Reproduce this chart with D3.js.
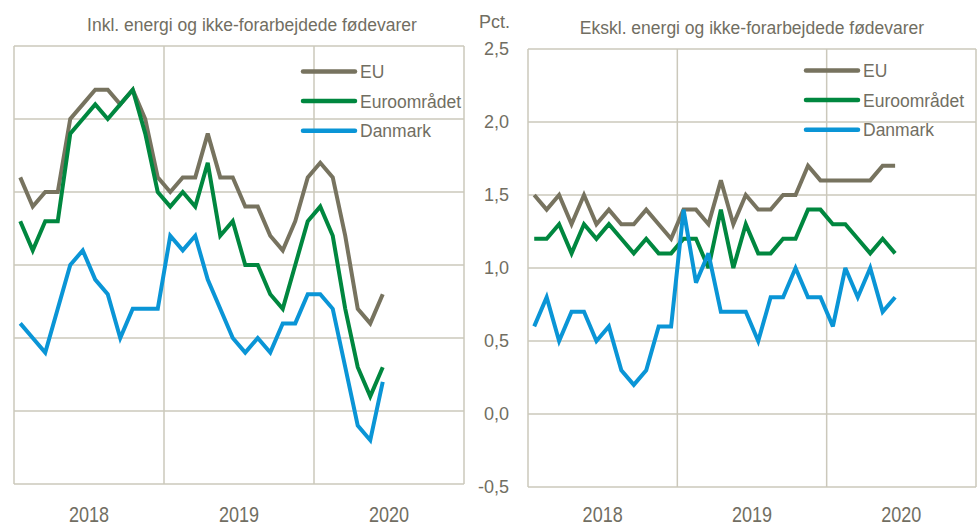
<!DOCTYPE html>
<html>
<head>
<meta charset="utf-8">
<script src="https://cdn.jsdelivr.net/npm/d3@7"></script>
<style>
  html, body { margin: 0; padding: 0; background: #ffffff; }
  svg { display: block; }
  text { font-family: "Liberation Sans", Arial, sans-serif; fill: #716e62; }
</style>
</head>
<body>
<svg id="chart" width="977" height="525"></svg>
<script>
// ---------- data ----------
const months = ["2018-01","2018-02","2018-03","2018-04","2018-05","2018-06","2018-07","2018-08","2018-09","2018-10","2018-11","2018-12",
                "2019-01","2019-02","2019-03","2019-04","2019-05","2019-06","2019-07","2019-08","2019-09","2019-10","2019-11","2019-12",
                "2020-01","2020-02","2020-03","2020-04","2020-05","2020-06"];
const years = ["2018", "2019", "2020"];
const yTicks = [2.5, 2.0, 1.5, 1.0, 0.5, 0.0, -0.5];
const seriesNames = ["EU", "Euroområdet", "Danmark"];

// Inkl. energi og ikke-forarbejdede fødevarer
const inklEU    = [1.6,1.4,1.5,1.5,2.0,2.1,2.2,2.2,2.1,2.2,2.0,1.6, 1.5,1.6,1.6,1.9,1.6,1.6,1.4,1.4,1.2,1.1,1.3,1.6, 1.7,1.6,1.2,0.7,0.6,0.8];
const inklEuro  = [1.3,1.1,1.3,1.3,1.9,2.0,2.1,2.0,2.1,2.2,1.9,1.5, 1.4,1.5,1.4,1.7,1.2,1.3,1.0,1.0,0.8,0.7,1.0,1.3, 1.4,1.2,0.7,0.3,0.1,0.3];
const inklDK    = [0.6,0.5,0.4,0.7,1.0,1.1,0.9,0.8,0.5,0.7,0.7,0.7, 1.2,1.1,1.2,0.9,0.7,0.5,0.4,0.5,0.4,0.6,0.6,0.8, 0.8,0.7,0.3,-0.1,-0.2,0.2];

// Ekskl. energi og ikke-forarbejdede fødevarer
const ekskEU    = [1.5,1.4,1.5,1.3,1.5,1.3,1.4,1.3,1.3,1.4,1.3,1.2, 1.4,1.4,1.3,1.6,1.3,1.5,1.4,1.4,1.5,1.5,1.7,1.6, 1.6,1.6,1.6,1.6,1.7,1.7];
const ekskEuro  = [1.2,1.2,1.3,1.1,1.3,1.2,1.3,1.2,1.1,1.2,1.1,1.1, 1.2,1.2,1.0,1.4,1.0,1.3,1.1,1.1,1.2,1.2,1.4,1.4, 1.3,1.3,1.2,1.1,1.2,1.1];
const ekskDK    = [0.6,0.8,0.5,0.7,0.7,0.5,0.6,0.3,0.2,0.3,0.6,0.6, 1.4,0.9,1.1,0.7,0.7,0.7,0.5,0.8,0.8,1.0,0.8,0.8, 0.6,1.0,0.8,1.0,0.7,0.8];

const colors = ["#77735f", "#00873f", "#0a95d6"];
const gridColor = "#cbc8bb";

// ---------- drawing ----------
const svg = d3.select("#chart");

function panel(opts) {
  const { x0, x1, y0, y1, title, titleX, titleY, series, legendX, legendY, showAxis } = opts;
  const g = svg.append("g");

  const x = d3.scaleLinear().domain([0, 36]).range([x0, x1]);
  const y = d3.scaleLinear().domain([-0.5, 2.5]).range([y1, y0]);

  // horizontal grid
  g.selectAll("line.hg").data(yTicks).join("line")
    .attr("x1", x0).attr("x2", x1)
    .attr("y1", d => y(d)).attr("y2", d => y(d))
    .attr("stroke", gridColor).attr("stroke-width", 1.5);

  // vertical grid (year boundaries + frame)
  g.selectAll("line.vg").data([0, 12, 24, 36]).join("line")
    .attr("x1", d => x(d)).attr("x2", d => x(d))
    .attr("y1", y0).attr("y2", y1)
    .attr("stroke", gridColor).attr("stroke-width", 1.5);

  // year labels
  g.selectAll("text.year").data(years).join("text")
    .attr("text-anchor", "middle")
    .attr("font-size", 22)
    .attr("transform", (d, i) => `translate(${x(6 + 12 * i)},522) scale(0.82,1)`)
    .text(d => d);

  // y axis labels
  if (showAxis) {
    const ax = x0 - 19;
    g.selectAll("text.yt").data(yTicks).join("text")
      .attr("x", ax).attr("y", d => y(d) + 6)
      .attr("text-anchor", "end")
      .attr("font-size", 18)
      .text(d => d3.format(".1f")(d).replace(".", ",").replace("−", "-"));
    g.append("text").attr("x", ax + 1).attr("y", 28)
      .attr("text-anchor", "end").attr("font-size", 18).text("Pct.");
  }

  // title
  g.append("text").attr("x", titleX).attr("y", titleY)
    .attr("text-anchor", "middle").attr("font-size", 17.5).text(title);

  // lines
  const line = d3.line()
    .x((d, i) => x(i + 0.5))
    .y(d => y(d));
  series.forEach((s, k) => {
    g.append("path").datum(s)
      .attr("fill", "none")
      .attr("stroke", colors[k])
      .attr("stroke-width", 4)
      .attr("stroke-linejoin", "miter")
      .attr("stroke-miterlimit", 3)
      .attr("d", line);
  });

  // legend
  seriesNames.forEach((name, k) => {
    const ly = legendY + k * 29.6;
    g.append("line")
      .attr("x1", legendX).attr("x2", legendX + 52)
      .attr("y1", ly).attr("y2", ly)
      .attr("stroke", colors[k]).attr("stroke-width", 4.5)
      .attr("stroke-linecap", "round");
    g.append("text").attr("x", legendX + 57).attr("y", ly + 6.5)
      .attr("font-size", 17.5).text(name);
  });
}

panel({
  x0: 14, x1: 464, y0: 46, y1: 484,
  title: "Inkl. energi og ikke-forarbejdede fødevarer", titleX: 252, titleY: 31,
  series: [inklEU, inklEuro, inklDK],
  legendX: 303, legendY: 71.5, showAxis: false
});

panel({
  x0: 528, x1: 976, y0: 49, y1: 487,
  title: "Ekskl. energi og ikke-forarbejdede fødevarer", titleX: 752, titleY: 34,
  series: [ekskEU, ekskEuro, ekskDK],
  legendX: 806, legendY: 70.5, showAxis: true
});
</script>
</body>
</html>
